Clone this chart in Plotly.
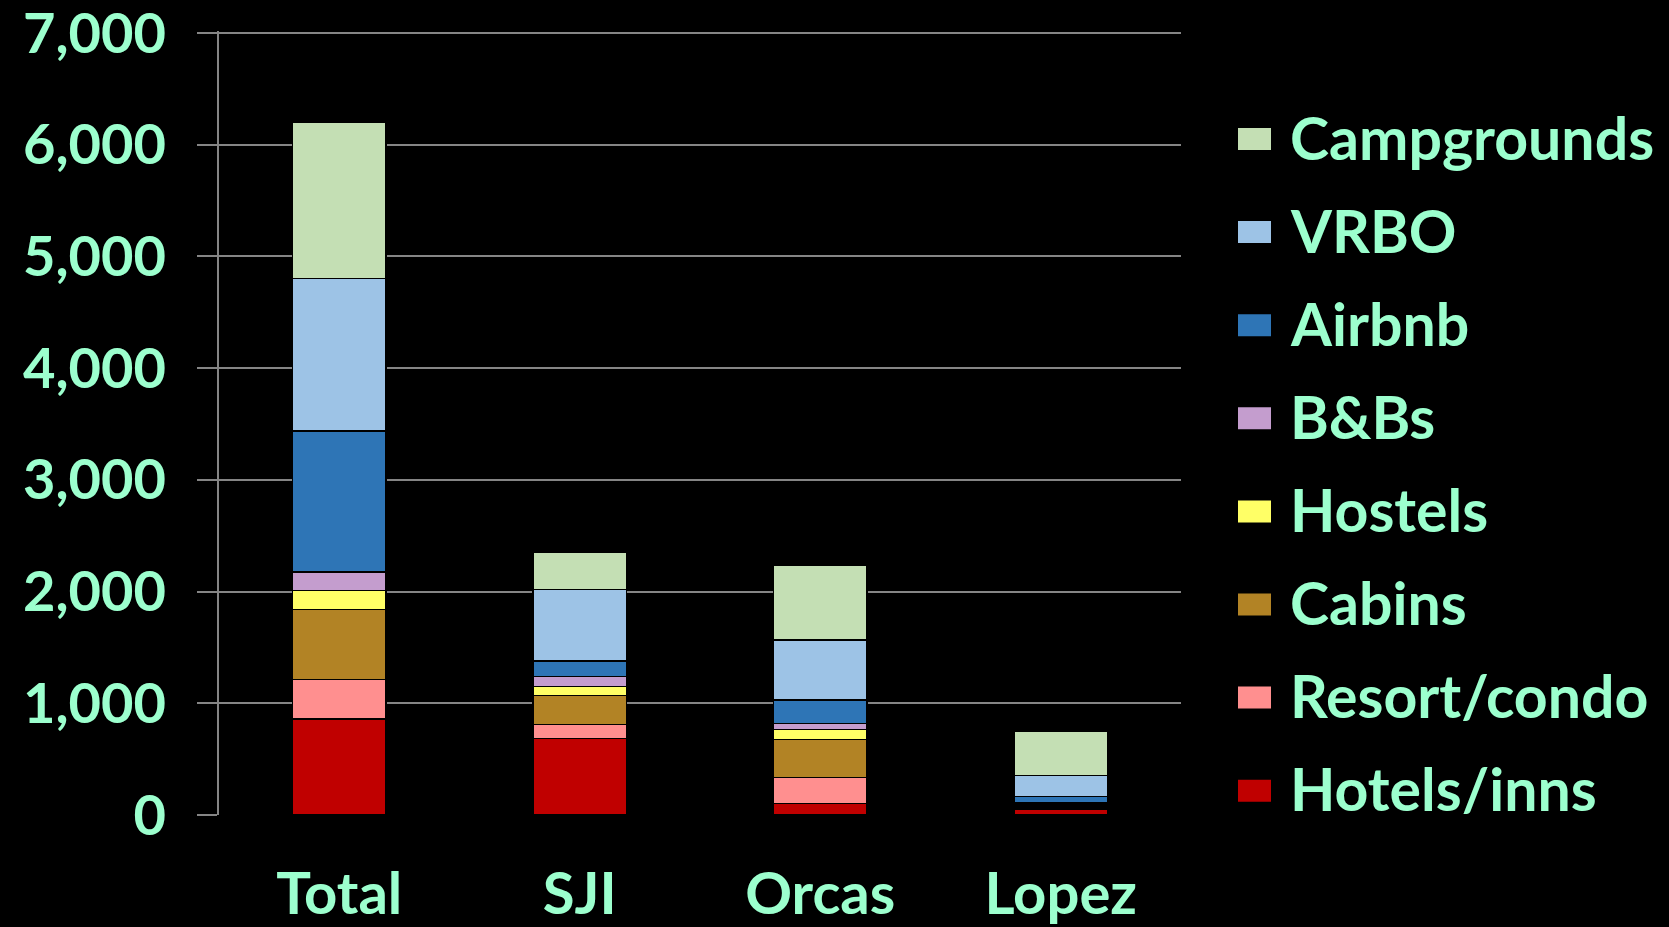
import plotly.graph_objects as go

categories = ["Total", "SJI", "Orcas", "Lopez"]
series_names = ["Hotels/inns", "Resort/condo", "Cabins", "Hostels", "B&Bs", "Airbnb", "VRBO", "Campgrounds"]
hotels = [859, 684, 104, 54]
resort = [355, 127, 230, 10]
cabins = [626, 260, 341, 16]
hostels = [170, 80, 92, 8]
bnbs = [164, 90, 54, 20]
airbnb = [1262, 138, 209, 59]
vrbo = [1368, 641, 537, 186]
campgrounds = [1400, 334, 666, 394]
y_ticks = [0, 1000, 2000, 3000, 4000, 5000, 6000, 7000]
y_tick_labels = ["0", "1,000", "2,000", "3,000", "4,000", "5,000", "6,000", "7,000"]

series_values = [hotels, resort, cabins, hostels, bnbs, airbnb, vrbo, campgrounds]
colors = ["#C00000", "#FF8F8F", "#B28325", "#FFFF66", "#C49DCE", "#2E75B6", "#9DC3E6", "#C4DFB4"]

W, H = 1669, 927
L, R, T, B = 219, 1669 - 1181, 31, 927 - 815
TXT = "#9CFFCE"
FONT = "Lato"

fig = go.Figure()
for name, vals, col in zip(series_names, series_values, colors):
    fig.add_trace(go.Bar(
        x=categories, y=vals, name=name,
        marker=dict(color=col, line=dict(color="black", width=1.5)),
        showlegend=False,
    ))

plot_w = W - L - R
plot_h = H - T - B

def px_x(x):
    return (x - L) / plot_w

def px_y(y):
    return (H - B - y) / plot_h

shapes = []
annotations = []
for i, (name, col) in enumerate(zip(reversed(series_names), reversed(colors))):
    cy = 139 + i * 93.1
    shapes.append(dict(type="rect", xref="paper", yref="paper",
                       x0=px_x(1238), x1=px_x(1271), y0=px_y(cy + 11), y1=px_y(cy - 11),
                       fillcolor=col, line=dict(width=0)))
    annotations.append(dict(xref="paper", yref="paper", x=px_x(1288), y=px_y(cy - 2),
                            xanchor="left", yanchor="middle", text=name, showarrow=False,
                            font=dict(family=FONT, size=59, color=TXT, weight="bold")))

fig.update_layout(
    width=W, height=H,
    margin=dict(l=L, r=R, t=T, b=B, pad=0, autoexpand=False),
    paper_bgcolor="black", plot_bgcolor="black",
    barmode="stack", bargap=0.61,
    showlegend=False,
    shapes=shapes, annotations=annotations,
    xaxis=dict(showgrid=False, showline=False, zeroline=False, ticks="",
               automargin=False,
               tickfont=dict(family=FONT, size=58, color=TXT, weight="bold"),
               ticklabelstandoff=40),
    yaxis=dict(range=[0, 7018], tickvals=y_ticks, ticktext=y_tick_labels,
               automargin=False,
               showgrid=True, gridcolor="#858585", gridwidth=1.5,
               showline=True, linecolor="#858585", linewidth=1.5,
               zeroline=False, ticklabeloverflow="allow",
               ticks="outside", ticklen=20, tickcolor="#858585", tickwidth=1.5,
               tickfont=dict(family=FONT, size=56, color=TXT, weight="bold"),
               ticklabelstandoff=20),
)

fig.write_html("out.html", config={"displayModeBar": False},
               post_script="document.body.style.margin='0';document.body.style.background='black';")
